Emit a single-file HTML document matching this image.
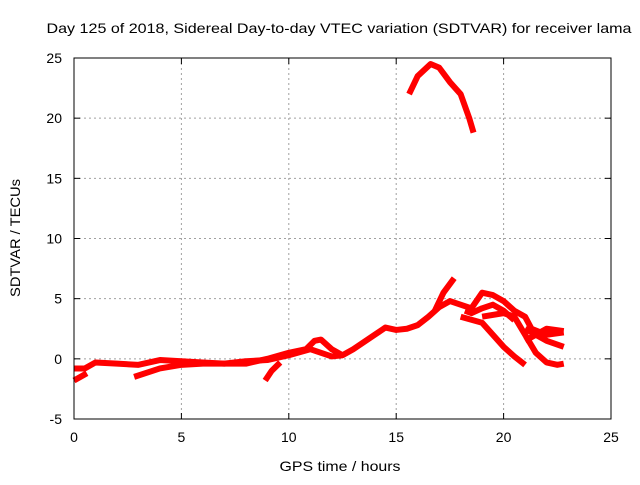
<!DOCTYPE html>
<html><head><meta charset="utf-8"><style>
body{margin:0;background:#fff;}
svg{font-family:"Liberation Sans",sans-serif;}
</style></head><body>
<svg id="chart" width="640" height="480">
<text x="339" y="33" font-size="14" text-anchor="middle" textLength="585" lengthAdjust="spacingAndGlyphs">Day 125 of 2018, Sidereal Day-to-day VTEC variation (SDTVAR) for receiver lama</text>
<g id="grid"></g><g id="series"></g><g id="axes"></g>
<text x="340" y="471" font-size="14" text-anchor="middle" textLength="121" lengthAdjust="spacingAndGlyphs">GPS time / hours</text>
<text transform="translate(20,238) rotate(-90)" font-size="14" text-anchor="middle" textLength="118" lengthAdjust="spacingAndGlyphs">SDTVAR / TECUs</text>
</svg>
<script>
const xTicks=[0,5,10,15,20,25];
const yTicks=[-5,0,5,10,15,20,25];
const seriesHours=[
[0,0.5,1,2,3,4,5,6,7,8,9,10,10.8,11.2,11.5,12,12.5,13,14,14.5,15,15.5,16,16.5,17,17.5,18,18.5,19,19.5,20,20.5,21,21.3,22,22.8],
[2.8,4,5,6,7,8,9,10,11,12,12.5],
[8.9,9.2,9.6],
[15.6,16,16.6,17,17.5,18,18.4,18.6],
[16.8,17.2,17.7],
[18,19,19.5,20,20.5,21],
[19,20,20.5,21,21.5,22,22.5,22.8],
[21,22,22.8],
[21,22,22.8],
[0,0.3,0.6],
[18.2,18.5,19,19.5,20,20.5]
];
const seriesValues=[
[-0.8,-0.8,-0.3,-0.4,-0.5,-0.1,-0.2,-0.3,-0.4,-0.4,0,0.5,0.8,1.5,1.6,0.8,0.3,0.8,2,2.6,2.4,2.5,2.8,3.5,4.3,4.8,4.5,4.2,5.5,5.3,4.8,4.0,3.5,2.5,2.0,2.2],
[-1.5,-0.8,-0.5,-0.4,-0.4,-0.2,-0.1,0.3,0.8,0.2,0.3],
[-1.8,-1.0,-0.3],
[22,23.5,24.5,24.2,23,22,20,18.8],
[4.0,5.5,6.7],
[3.5,3.0,2.0,1.0,0.2,-0.5],
[3.5,3.8,3.5,2.0,0.5,-0.3,-0.5,-0.4],
[2.5,1.5,1.0],
[1.5,2.5,2.3],
[-1.8,-1.5,-1.2],
[4.0,3.8,4.2,4.5,4.0,3.2]
];
const X0=74,X1=611,Y0=419,Y1=58;
const xs=v=>X0+(v-0)/25*(X1-X0);
const ys=v=>Y0-(v+5)/30*(Y0-Y1);
const NS="http://www.w3.org/2000/svg";
function mk(t,a,p){const e=document.createElementNS(NS,t);for(const k in a)e.setAttribute(k,a[k]);p.appendChild(e);return e;}
const grid=document.getElementById('grid'),axes=document.getElementById('axes'),ser=document.getElementById('series');
xTicks.forEach(t=>{
 if(t>0&&t<25){const l=mk('line',{x1:xs(t),x2:xs(t),y1:Y1,y2:Y0,stroke:'#a0a0a0','stroke-dasharray':'2,3'},grid);
 
 }
 mk('line',{x1:xs(t),x2:xs(t),y1:Y0,y2:Y0-6,stroke:'#000'},axes);
 mk('line',{x1:xs(t),x2:xs(t),y1:Y1,y2:Y1+6,stroke:'#000'},axes);
 const tx=mk('text',{x:xs(t),y:Y0+23,'font-size':14,'text-anchor':'middle'},axes);tx.textContent=t;
 
 
});
yTicks.forEach(t=>{
 if(t>-5&&t<25){const l=mk('line',{x1:X0,x2:X1,y1:ys(t),y2:ys(t),stroke:'#a0a0a0','stroke-dasharray':'2,3'},grid);
 
 }
 mk('line',{x1:X0,x2:X0+6,y1:ys(t),y2:ys(t),stroke:'#000'},axes);
 mk('line',{x1:X1,x2:X1-6,y1:ys(t),y2:ys(t),stroke:'#000'},axes);
 const tx=mk('text',{x:X0-12,y:ys(t)+5,'font-size':14,'text-anchor':'end'},axes);tx.textContent=t;
 
 
});
const box=mk('rect',{x:X0,y:Y1,width:X1-X0,height:Y0-Y1,fill:'none',stroke:'#000'},axes);


seriesHours.forEach((h,i)=>{
 const pts=h.map((v,j)=>xs(v)+','+ys(seriesValues[i][j])).join(' ');
 const pl=mk('polyline',{points:pts,fill:'none',stroke:'#ff0000','stroke-width':6,'stroke-linejoin':'round'},ser);
 
 
});
</script>
</body></html>
